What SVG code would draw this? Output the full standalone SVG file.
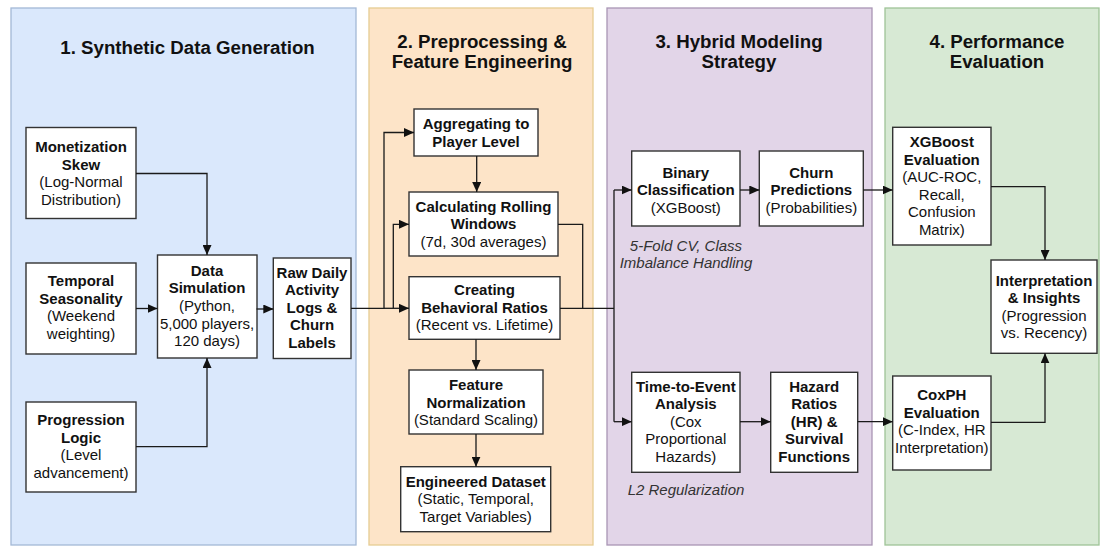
<svg xmlns="http://www.w3.org/2000/svg" width="1102" height="546" viewBox="0 0 1102 546">
<defs>
<marker id="arr" viewBox="0 0 10 9" markerWidth="10" markerHeight="9" refX="10" refY="4.5" orient="auto" markerUnits="userSpaceOnUse">
<path d="M0,0 L10,4.5 L0,9 z" fill="#111"/>
</marker>
</defs>
<style>
.panel{stroke-width:1.3}
.node rect{fill:#fff;stroke:#333;stroke-width:1.4}
text{font-family:"Liberation Sans",Arial,sans-serif;fill:#111;text-anchor:middle}
.t{font-size:18.7px;font-weight:bold}
.b{font-size:15px;font-weight:bold}
.r{font-size:15px}
.i{font-size:15px;font-style:italic;fill:#333}
.conn path{fill:none;stroke:#1a1a1a;stroke-width:1.3}
.conn path.a{marker-end:url(#arr)}
</style>
<g id="panels">
<rect class="panel" x="11" y="8" width="345" height="537" fill="#dae8fc" stroke="#a3b8d6"/>
<rect class="panel" x="369" y="8" width="224" height="537" fill="#fde4c8" stroke="#e6cc92"/>
<rect class="panel" x="607" y="8" width="265" height="537" fill="#e2d5e8" stroke="#a996b4"/>
<rect class="panel" x="885" y="8" width="214" height="537" fill="#d7e9d4" stroke="#9fc497"/>
<text class="t" x="187.5" y="54">1. Synthetic Data Generation</text>
<text class="t" x="482" y="48">2. Preprocessing &amp;</text>
<text class="t" x="482" y="68">Feature Engineering</text>
<text class="t" x="739" y="48">3. Hybrid Modeling</text>
<text class="t" x="739" y="68">Strategy</text>
<text class="t" x="997" y="48">4. Performance</text>
<text class="t" x="997" y="68">Evaluation</text>
</g>
<g id="n-monetization" class="node">
<rect x="26" y="127.5" width="110" height="91"/>
<text class="b" x="81" y="152">Monetization</text>
<text class="b" x="81" y="169.6">Skew</text>
<text class="r" x="81" y="187.2">(Log-Normal</text>
<text class="r" x="81" y="204.8">Distribution)</text>
</g>
<g id="n-temporal" class="node">
<rect x="26" y="263" width="110" height="91"/>
<text class="b" x="81" y="286">Temporal</text>
<text class="b" x="81" y="303.6">Seasonality</text>
<text class="r" x="81" y="321.2">(Weekend</text>
<text class="r" x="81" y="338.8">weighting)</text>
</g>
<g id="n-progression" class="node">
<rect x="26" y="402" width="110" height="90"/>
<text class="b" x="81" y="425">Progression</text>
<text class="b" x="81" y="442.6">Logic</text>
<text class="r" x="81" y="460.2">(Level</text>
<text class="r" x="81" y="477.8">advancement)</text>
</g>
<g id="n-datasim" class="node">
<rect x="157.5" y="255" width="99.5" height="103"/>
<text class="b" x="207" y="275.7">Data</text>
<text class="b" x="207" y="293.3">Simulation</text>
<text class="r" x="207" y="310.9">(Python,</text>
<text class="r" x="207" y="328.5">5,000 players,</text>
<text class="r" x="207" y="346.1">120 days)</text>
</g>
<g id="n-raw" class="node">
<rect x="273.3" y="258" width="77.7" height="100.5"/>
<text class="b" x="312" y="277.7">Raw Daily</text>
<text class="b" x="312" y="295.2">Activity</text>
<text class="b" x="312" y="312.7">Logs &amp;</text>
<text class="b" x="312" y="330.2">Churn</text>
<text class="b" x="312" y="347.7">Labels</text>
</g>
<g id="n-aggregating" class="node">
<rect x="414" y="109" width="124" height="47"/>
<text class="b" x="476" y="129.3">Aggregating to</text>
<text class="b" x="476" y="146.8">Player Level</text>
</g>
<g id="n-rolling" class="node">
<rect x="409" y="192" width="149" height="64"/>
<text class="b" x="483.5" y="211.7">Calculating Rolling</text>
<text class="b" x="483.5" y="229.2">Windows</text>
<text class="r" x="483.5" y="246.7">(7d, 30d averages)</text>
</g>
<g id="n-ratios" class="node">
<rect x="409" y="276.7" width="151" height="62.6"/>
<text class="b" x="484.5" y="295">Creating</text>
<text class="b" x="484.5" y="312.5">Behavioral Ratios</text>
<text class="r" x="484.5" y="330">(Recent vs. Lifetime)</text>
</g>
<g id="n-normalization" class="node">
<rect x="409" y="370" width="134" height="64"/>
<text class="b" x="476" y="390">Feature</text>
<text class="b" x="476" y="407.5">Normalization</text>
<text class="r" x="476" y="425">(Standard Scaling)</text>
</g>
<g id="n-dataset" class="node">
<rect x="400.7" y="466.7" width="150" height="65"/>
<text class="b" x="475.7" y="486.7">Engineered Dataset</text>
<text class="r" x="475.7" y="504.2">(Static, Temporal,</text>
<text class="r" x="475.7" y="521.7">Target Variables)</text>
</g>
<g id="n-binary" class="node">
<rect x="631.7" y="151" width="108.3" height="75"/>
<text class="b" x="685.8" y="177.7">Binary</text>
<text class="b" x="685.8" y="195.2">Classification</text>
<text class="r" x="685.8" y="212.7">(XGBoost)</text>
</g>
<g id="n-churnpred" class="node">
<rect x="759.3" y="151" width="104" height="75"/>
<text class="b" x="811.3" y="177.7">Churn</text>
<text class="b" x="811.3" y="195.2">Predictions</text>
<text class="r" x="811.3" y="212.7">(Probabilities)</text>
</g>
<g id="note-cv">
<text class="i" x="686" y="250.8">5-Fold CV, Class</text>
<text class="i" x="686" y="268">Imbalance Handling</text>
</g>
<g id="n-tte" class="node">
<rect x="631.7" y="372.3" width="108.3" height="100"/>
<text class="b" x="685.8" y="391.7">Time-to-Event</text>
<text class="b" x="685.8" y="409.2">Analysis</text>
<text class="r" x="685.8" y="426.7">(Cox</text>
<text class="r" x="685.8" y="444.2">Proportional</text>
<text class="r" x="685.8" y="461.7">Hazards)</text>
</g>
<g id="n-hazard" class="node">
<rect x="770.7" y="372.3" width="87" height="100"/>
<text class="b" x="814.2" y="391.7">Hazard</text>
<text class="b" x="814.2" y="409.2">Ratios</text>
<text class="b" x="814.2" y="426.7">(HR) &amp;</text>
<text class="b" x="814.2" y="444.2">Survival</text>
<text class="b" x="814.2" y="461.7">Functions</text>
</g>
<g id="note-l2">
<text class="i" x="686" y="495">L2 Regularization</text>
</g>
<g id="n-xgbeval" class="node">
<rect x="892.7" y="127.3" width="98.3" height="117.7"/>
<text class="b" x="941.8" y="147.3">XGBoost</text>
<text class="b" x="941.8" y="164.8">Evaluation</text>
<text class="r" x="941.8" y="182.3">(AUC-ROC,</text>
<text class="r" x="941.8" y="199.8">Recall,</text>
<text class="r" x="941.8" y="217.3">Confusion</text>
<text class="r" x="941.8" y="234.8">Matrix)</text>
</g>
<g id="n-interp" class="node">
<rect x="991" y="260" width="106" height="93.3"/>
<text class="b" x="1044" y="285.7">Interpretation</text>
<text class="b" x="1044" y="303.2">&amp; Insights</text>
<text class="r" x="1044" y="320.7">(Progression</text>
<text class="r" x="1044" y="338.2">vs. Recency)</text>
</g>
<g id="n-coxeval" class="node">
<rect x="892.7" y="376" width="98.3" height="94"/>
<text class="b" x="941.8" y="400">CoxPH</text>
<text class="b" x="941.8" y="417.5">Evaluation</text>
<text class="r" x="941.8" y="435">(C-Index, HR</text>
<text class="r" x="941.8" y="452.5">Interpretation)</text>
</g>
<g id="connectors" class="conn">
<path class="a" d="M136,173.5 H207 V255"/>
<path class="a" d="M136,308.5 H157.5"/>
<path class="a" d="M136,446.6 H207 V358"/>
<path class="a" d="M256.5,309 H273.3"/>
<path class="a" d="M351,308.3 H384 V132.5 H414"/>
<path class="a" d="M384,308.3 H409"/>
<path class="a" d="M393.3,308.3 V224.3 H409"/>
<path class="a" d="M476.7,156 V192"/>
<path class="a" d="M476,339.3 V370"/>
<path class="a" d="M476,434 V466.7"/>
<path d="M558,224.3 H582.7 V308.3"/>
<path d="M560,308.3 H614"/>
<path d="M614,190 V421.7"/>
<path class="a" d="M614,190 H631.7"/>
<path class="a" d="M614,421.7 H631.7"/>
<path class="a" d="M740,190 H759.3"/>
<path class="a" d="M863.3,190 H892.7"/>
<path class="a" d="M740,421.7 H770.7"/>
<path class="a" d="M857.7,421.7 H892.7"/>
<path class="a" d="M991,186.7 H1045 V260"/>
<path class="a" d="M991,422.3 H1045 V353.3"/>
</g>
</svg>
